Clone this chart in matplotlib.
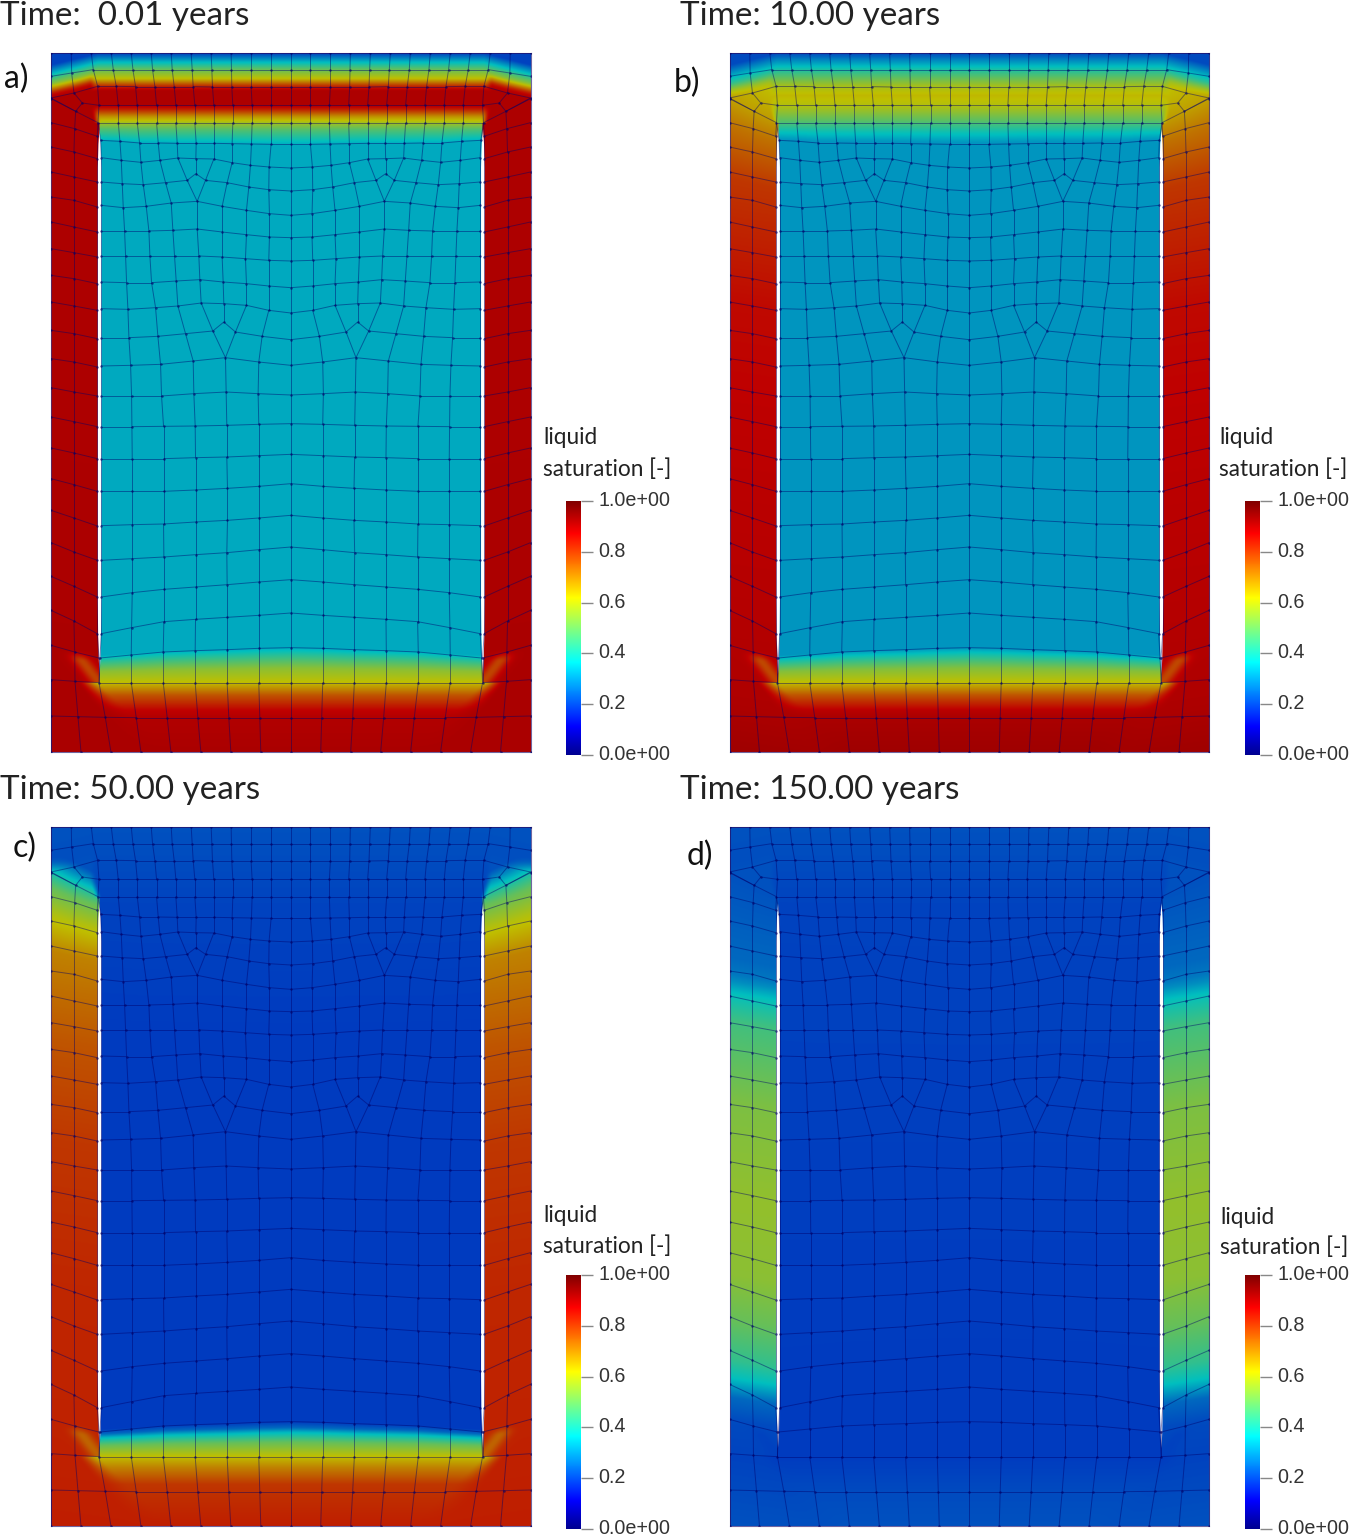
import numpy as np
import matplotlib
matplotlib.use("Agg")
import matplotlib.pyplot as plt
from matplotlib.colors import LinearSegmentedColormap
from matplotlib.collections import LineCollection
from matplotlib.transforms import ScaledTranslation

W, H = 1350, 1536
# ---------------- mesh nodes (mesh units; left half, mirrored about X_C) ----------------
X_L, X_R, Y_T, Y_B, X_C = 151, 1591, 158, 2255, 871
T0_X = [151,212,272,332,392,452,512,572,632,692,752,812,871]
T0_Y = [158]*13
T1_X = [151,213,278,338,397,456,515,575,634,693,752,812,871]
T1_Y = [228,218,208,208,208,208,208,208,208,208,208,208,208]
T2_X = [151,220,291,347,405,463,521,578,636,694,752,812,871]
T2_Y = [293,278,258,258,259,259,259,259,260,260,260,260,260]
T3_X = [295,353,410,468,526,583,640,697,755,812,871]
T3_Y = [315]*11
T4_X = [292,353,410,468,526,583,640,697,755,812,871]
T4_Y = [367]*11
RB_X = [300,358,417,473,530,587,640,695,753,812,871]
RB_Y = [420,423,428,428,429,429,429,430,431,432,432]
RC_X = [302,362,421,478,532,586,640,695,750,806,871]
RC_Y = [472,480,486,480,473,475,476,487,495,500,503]
RD_X = [302,365,428,495,560,615,680,745,805,871]
RD_Y = [545,550,553,547,540,540,547,560,568,572]
RE_X = [302,368,437,512,590,665,738,807,871]
RE_Y = [615,622,618,608,603,618,630,640,645]
RF_X = [302,372,445,517,590,665,738,807,871]
RF_Y = [692,692,692,690,686,695,703,710,712]
RG_X = [302,375,448,522,595,665,735,805,871]
RG_Y = [767,767,767,767,767,770,775,780,782]
RH_X = [302,378,453,527,598,668,738,805,871]
RH_Y = [845,847,847,842,838,845,850,857,862]
RI_X = [302,382,465,532,602,670,738,805,871]
RI_Y = [925,927,922,917,908,910,915,930,938]
RJ_X = [302,385,472,555,637,705,785,871]
RJ_Y = [1012,1012,1008,1000,992,995,1008,1018]
RK_X = [302,390,480,578,675,775,871]
RK_Y = [1097,1095,1092,1082,1072,1085,1095]
RL_X = [302,393,483,580,677,773,871]
RL_Y = [1187,1187,1187,1180,1175,1180,1184]
RM_X = [302,394,489,584,679,775,871]
RM_Y = [1279,1279,1278,1277,1275,1272,1270]
RN_X = [302,395,489,585,679,775,871]
RN_Y = [1375,1375,1375,1372,1370,1366,1362]
RO_X = [302,395,489,585,681,775,871]
RO_Y = [1473,1473,1473,1469,1464,1458,1450]
RP_X = [302,395,489,585,681,775,871]
RP_Y = [1576,1573,1571,1565,1560,1553,1545]
RQ_X = [302,395,490,585,679,775,871]
RQ_Y = [1680,1675,1670,1663,1657,1648,1640]
RR_X = [302,395,490,585,680,775,871]
RR_Y = [1790,1777,1767,1760,1753,1745,1738]
RS_X = [302,393,490,585,680,775,871]
RS_Y = [1900,1882,1864,1857,1851,1845,1838]
RT_X = [298,392,488,584,680,775,871]
RT_Y = [1973,1964,1955,1951,1948,1944,1942]
RU_X = [295,392,488,584,680,775,871]
RU_Y = [2047]*7
RV_X = [151,232,314,407,500,592,685,778,871]
RV_Y = [2147,2149,2151,2152,2152,2152,2152,2152,2152]
RW_X = [151,241,331,421,511,601,691,781,871]
RW_Y = [2255]*9
RING_Y0 = [295,367,440,515,590,665,745,825,905,990,1075,1162,1250,1343,1435,1530,1627,1728,1830,1935,2038]
RING_Y1 = [333,385,455,530,600,680,757,835,917,1000,1085,1175,1264,1358,1453,1553,1655,1758,1862,1955,2043]
RING_Y2 = [367,408,475,545,620,695,770,850,930,1015,1100,1187,1279,1375,1473,1577,1680,1790,1900,1973,2047]
RING_X1 = [225,222,220,220,220,220,220,220,220,220,220,220,220,220,220,220,220,220,220,222,223]
RING_X2 = [292,290,290,290,290,290,290,290,290,290,290,290,290,290,290,290,290,290,290,295,295]
# gap between the outer ring and the inner block
SLIT_Y = [385,430,500,1800,1900,1975,2020]
SLIT_L = [295,292,290,290,291,293,295]
SLIT_R = [295,299,301,301,300,298,295]

# ---------------- liquid saturation profiles per panel (height, value) ----------------
A_MID_Y = [158,180,207,234,258,270,315,327,348,367,390,432,1942,1965,2004,2047,2085,2130,2152,2255]
A_MID_S = [.20,.33,.50,.62,.83,.895,.895,.83,.68,.58,.47,.337,.337,.42,.55,.62,.76,.87,.89,.90]
A_SIDE_Y = [158,270,1000,2255]
A_SIDE_S = [.895,.895,.895,.90]
B_MID_Y = [158,204,255,285,315,340,366,396,426,1942,1965,2004,2047,2085,2130,2152,2255]
B_MID_S = [.21,.39,.58,.63,.60,.54,.47,.38,.31,.31,.40,.54,.62,.76,.88,.90,.915]
B_SIDE_Y = [158,294,375,534,900,1200,1800,2100,2255]
B_SIDE_S = [.60,.66,.72,.80,.86,.873,.885,.895,.915]
C_MID_Y = [158,400,800,1942,1960,1975,2004,2047,2080,2130,2255]
C_MID_S = [.22,.20,.19,.19,.25,.36,.50,.62,.70,.80,.833]
C_SIDE_Y = [158,228,260,297,340,420,530,800,1100,1500,2100,2255]
C_SIDE_S = [.22,.22,.30,.40,.50,.60,.70,.76,.80,.82,.83,.833]
D_MID_Y = [158,400,1900,2047,2150,2255]
D_MID_S = [.22,.20,.19,.19,.21,.22]
D_SIDE_Y = [158,300,550,597,620,657,740,980,1280,1500,1640,1758,1809,1869,1938,2047,2255]
D_SIDE_S = [.22,.22,.25,.27,.30,.37,.45,.53,.56,.55,.50,.43,.37,.25,.21,.20,.22]

TITLES = ["Time:  0.01 years", "Time: 10.00 years", "Time: 50.00 years", "Time: 150.00 years"]
LETTERS = ["a)", "b)", "c)", "d)"]
CB_TICKS = [0, .2, .4, .6, .8, 1]
CB_LABELS = ["0.0e+00", "0.2", "0.4", "0.6", "0.8", "1.0e+00"]
CMAP_POS = [0, .111, .365, .619, .873, 1]
CMAP_RGB = [(0,0,.56), (0,0,1), (0,1,1), (1,1,0), (1,0,0), (.5,0,0)]
DIM = 0.75

plt.rcParams['font.family'] = ['Open Sans', 'DejaVu Sans']
full = LinearSegmentedColormap.from_list("pv", list(zip(CMAP_POS, CMAP_RGB)), N=512)
dim = LinearSegmentedColormap.from_list("pvd", [(p, tuple(c*DIM for c in r)) for p, r in zip(CMAP_POS, CMAP_RGB)], N=512)

fig = plt.figure(figsize=(W/100, H/100), dpi=100)

def box(x0, y0, x1, y1):
    return [x0/W, 1-y1/H, (x1-x0)/W, (y1-y0)/H]

def txt(x, y, s, size, family=None, color='#222222', va='center', **kw):
    fig.text(x/W, 1-y/H, s, fontsize=size, va=va, ha='left', color=color,
             family=family or ['Open Sans'], **kw)

def sstep(a, b, v):
    t = np.clip((v-a)/(b-a), 0, 1)
    return t*t*(3-2*t)

def field(my, ms, sy, ss):
    xs = np.linspace(X_L, X_R, 960)
    ys = np.linspace(Y_T, Y_B, 1398)
    X, Y = np.meshgrid(xs, ys)
    Xf = np.minimum(X, 2*X_C-X)          # mirror symmetric
    # middle profile, following the bow of the rows at band edges
    bow_b = np.interp(Xf, RT_X, RT_Y) - RT_Y[-1]
    fb = np.clip((2047-Y)/(2047-1942), 0, 1)*(Y > 1500)
    bow_t = np.interp(Xf, RB_X, RB_Y) - RB_Y[-1]
    ft = np.clip((Y-367)/65, 0, 1)*(Y < 1000)
    cham = np.clip((291-Xf)/140, 0, 1)*35*np.clip((420-Y)/100, 0, 1)
    mid = np.interp(Y - bow_b*fb - bow_t*ft - cham, my, ms)
    # side column, iso-lines tilted
    slope = np.interp(Y, [300,450,650], [.5,.3,.15])
    side = np.interp(Y-slope*(Xf-X_L), sy, ss)
    # upper part: side takes over below the chamfer row
    y2 = np.interp(Xf, T2_X, T2_Y)
    w = sstep(y2-50, y2+5, Y)
    xl = np.interp(Y, [315,367], [265,278])
    w = w*(1-sstep(xl, xl+25, Xf))
    w = np.where(Y > 367, np.where(Xf < 296, 1.0, 0.0), w)
    # lower inner corner: a strip along the diagonal, then a wedge under the row
    d = Xf - (228 + (Y-1962)*67/85)
    strip = 0.42*np.exp(-(d/27)**2)*sstep(1950, 1985, Y)
    w = np.where((Y > 1900) & (Y < 2047) & (Xf < 296), 1-strip, w)
    xa = 228 + (Y-2047)*.75
    xb = 295 + (Y-2047)*1.08
    w = np.where(Y >= 2047, 1-sstep(xa, xb, Xf), w)
    # the strip is pulled toward the band value at the row
    mid = np.where((Y > 1900) & (Y < 2047) & (Xf < 296), np.interp(2047, my, ms), mid)
    return w*side + (1-w)*mid

def mesh_segments():
    seg = []
    def poly(xs, ys):
        seg.extend([[(xs[i], ys[i]), (xs[i+1], ys[i+1])] for i in range(len(xs)-1)])
    def link(ax_, ay, bx, by, pairs=None):
        pairs = pairs or [(i, i) for i in range(len(ax_))]
        for i, j in pairs:
            seg.append([(ax_[i], ay[i]), (bx[j], by[j])])
    rows = [(T0_X,T0_Y),(T1_X,T1_Y),(T2_X,T2_Y),(T3_X,T3_Y),(T4_X,T4_Y),(RB_X,RB_Y),(RC_X,RC_Y),
            (RE_X,RE_Y),(RF_X,RF_Y),(RG_X,RG_Y),(RH_X,RH_Y),(RI_X,RI_Y),(RK_X,RK_Y),(RL_X,RL_Y),
            (RM_X,RM_Y),(RN_X,RN_Y),(RO_X,RO_Y),(RP_X,RP_Y),(RQ_X,RQ_Y),(RR_X,RR_Y),(RS_X,RS_Y),
            (RT_X,RT_Y),(RU_X,RU_Y),(RV_X,RV_Y),(RW_X,RW_Y)]
    for r in rows:
        poly(*r)
    poly(RD_X[:5], RD_Y[:5]); poly(RD_X[5:], RD_Y[5:])
    poly(RJ_X[:5], RJ_Y[:5]); poly(RJ_X[5:], RJ_Y[5:])
    link(T0_X,T0_Y,T1_X,T1_Y); link(T1_X,T1_Y,T2_X,T2_Y)
    link(T2_X,T2_Y,T3_X,T3_Y,[(i+2,i) for i in range(11)])
    link(T3_X,T3_Y,T4_X,T4_Y); link(T4_X,T4_Y,RB_X,RB_Y); link(RB_X,RB_Y,RC_X,RC_Y,[(i,i) for i in range(5)]+[(i,i) for i in range(6,11)])
    link(RC_X,RC_Y,RD_X,RD_Y,[(0,0),(1,1),(2,2),(3,3),(4,4),(6,5),(7,6),(8,7),(9,8),(10,9)])
    link(RD_X,RD_Y,RE_X,RE_Y,[(0,0),(1,1),(2,2),(3,3),(4,4),(5,4),(6,5),(7,6),(8,7),(9,8)])
    for a, b in [((RE_X,RE_Y),(RF_X,RF_Y)),((RF_X,RF_Y),(RG_X,RG_Y)),((RG_X,RG_Y),(RH_X,RH_Y)),((RH_X,RH_Y),(RI_X,RI_Y)),
                 ((RK_X,RK_Y),(RL_X,RL_Y)),((RL_X,RL_Y),(RM_X,RM_Y)),((RM_X,RM_Y),(RN_X,RN_Y)),((RN_X,RN_Y),(RO_X,RO_Y)),
                 ((RO_X,RO_Y),(RP_X,RP_Y)),((RP_X,RP_Y),(RQ_X,RQ_Y)),((RQ_X,RQ_Y),(RR_X,RR_Y)),((RR_X,RR_Y),(RS_X,RS_Y)),
                 ((RS_X,RS_Y),(RT_X,RT_Y)),((RT_X,RT_Y),(RU_X,RU_Y))]:
        link(*a, *b)
    link(RI_X,RI_Y,RJ_X,RJ_Y,[(0,0),(1,1),(2,2),(3,3),(4,4),(6,5),(7,6),(8,7)])
    link(RJ_X,RJ_Y,RK_X,RK_Y,[(0,0),(1,1),(2,2),(3,3),(4,4),(5,4),(6,5),(7,6)])
    link(RV_X,RV_Y,RW_X,RW_Y)
    link(RU_X,RU_Y,RV_X,RV_Y,[(i,i+2) for i in range(7)])
    # kites
    kite1 = (586, 520); kite2 = (670, 965); kite0 = (245, 308)
    seg.append([(RC_X[5],RC_Y[5]), kite1])
    seg.append([(RB_X[5],RB_Y[5]), (RC_X[5],RC_Y[5])])
    seg.append([kite1,(RD_X[4],RD_Y[4])]); seg.append([kite1,(RD_X[5],RD_Y[5])])
    seg.append([(RI_X[5],RI_Y[5]), kite2])
    seg.append([kite2,(RJ_X[4],RJ_Y[4])]); seg.append([kite2,(RJ_X[5],RJ_Y[5])])
    seg.append([(T2_X[1],T2_Y[1]), kite0]); seg.append([kite0,(RING_X1[0],RING_Y1[0])])
    seg.append([kite0,(T3_X[0],T3_Y[0])])
    seg.append([(T2_X[0],T2_Y[0]),(RING_X1[0],RING_Y1[0])])
    # ring
    for i in range(len(RING_Y0)):
        poly([X_L,RING_X1[i],RING_X2[i]],[RING_Y0[i],RING_Y1[i],RING_Y2[i]])
    poly(RING_X1, RING_Y1); poly(RING_X2, RING_Y2)
    seg.append([(RING_X1[-1],RING_Y1[-1]),(RV_X[1],RV_Y[1])])
    seg.append([(X_L,RING_Y0[-1]),(X_L,RV_Y[0])])
    all_seg = np.array(seg, dtype=float)
    off_c = ~np.all(all_seg[:,:,0] == X_C, axis=1)
    mir = all_seg[off_c].copy(); mir[:,:,0] = 2*X_C-mir[:,:,0]
    return np.concatenate([all_seg, mir])

SEG = mesh_segments()
NODES = np.unique(SEG.reshape(-1,2), axis=0)

panels = [
 (51,  53, A_MID_Y,A_MID_S,A_SIDE_Y,A_SIDE_S),
 (729.5,53, B_MID_Y,B_MID_S,B_SIDE_Y,B_SIDE_S),
 (51, 827, C_MID_Y,C_MID_S,C_SIDE_Y,C_SIDE_S),
 (729.5,827, D_MID_Y,D_MID_S,D_SIDE_Y,D_SIDE_S),
]
title_xy = [(0,16),(680,16),(0,790),(680,790)]
letter_xy = [(4,79),(674,83),(13,848),(687,856)]
cb_xy = [(566,501),(1245,501),(566,1275),(1245,1275)]
liq_xy = [(543,438,469),(1219,438,469),(543,1216,1246),(1220,1217,1247)]

for k, (px, py, my, ms, sy, ss) in enumerate(panels):
    ax = fig.add_axes(box(px, py, px+479.5, py+699))
    s = field(my, ms, sy, ss)
    ax.imshow(s, cmap=dim, vmin=0, vmax=1, extent=(X_L,X_R,Y_B,Y_T), aspect='auto', interpolation='bilinear', zorder=1)
    ax.fill_betweenx(SLIT_Y, SLIT_L, SLIT_R, color='white', lw=0, zorder=2)
    ax.fill_betweenx(SLIT_Y, 2*X_C-np.array(SLIT_L), 2*X_C-np.array(SLIT_R), color='white', lw=0, zorder=2)
    ax.add_collection(LineCollection(SEG, colors=[(0,0,.42,.45)], linewidths=.7, zorder=3))
    ax.scatter(NODES[:,0], NODES[:,1], s=3.2, color=(0,0,.4,.6), lw=0, zorder=4, clip_on=True)
    ax.set_xlim(X_L, X_R); ax.set_ylim(Y_B, Y_T)
    ax.set_xticks([]); ax.set_yticks([])
    for sp in ax.spines.values():
        sp.set_color((.25,.2,.5,.75)); sp.set_linewidth(.8)

    txt(title_xy[k][0], title_xy[k][1], TITLES[k], 23.9, family=['Lato'], color='#222222')
    txt(letter_xy[k][0], letter_xy[k][1], LETTERS[k], 23, family=['Lato'], color='#111111')
    lx, ly1, ly2 = liq_xy[k]
    txt(lx, ly1, "liquid", 16.3, family=['Lato'], color='#222222')
    txt(lx, ly2, "saturation [-]", 16.3, family=['Lato'], color='#222222')

    cx, cy = cb_xy[k]
    cax = fig.add_axes(box(cx, cy, cx+15, cy+254))
    sm = plt.cm.ScalarMappable(cmap=full, norm=plt.Normalize(0, 1))
    cb = fig.colorbar(sm, cax=cax, ticks=CB_TICKS)
    cb.outline.set_visible(False)
    cb.set_ticklabels(CB_LABELS)
    cax.tick_params(axis='y', length=8.5, width=1, color='#888888', pad=4, labelsize=14.2, labelcolor='#333333')
    shift = ScaledTranslation(0, 0.5/100, fig.dpi_scale_trans)
    for t in cax.get_yticklabels():
        t.set_family(['Liberation Sans'])
        t.set_verticalalignment('center')
        t.set_transform(t.get_transform() + shift)

fig.savefig("out.png", dpi=100)
